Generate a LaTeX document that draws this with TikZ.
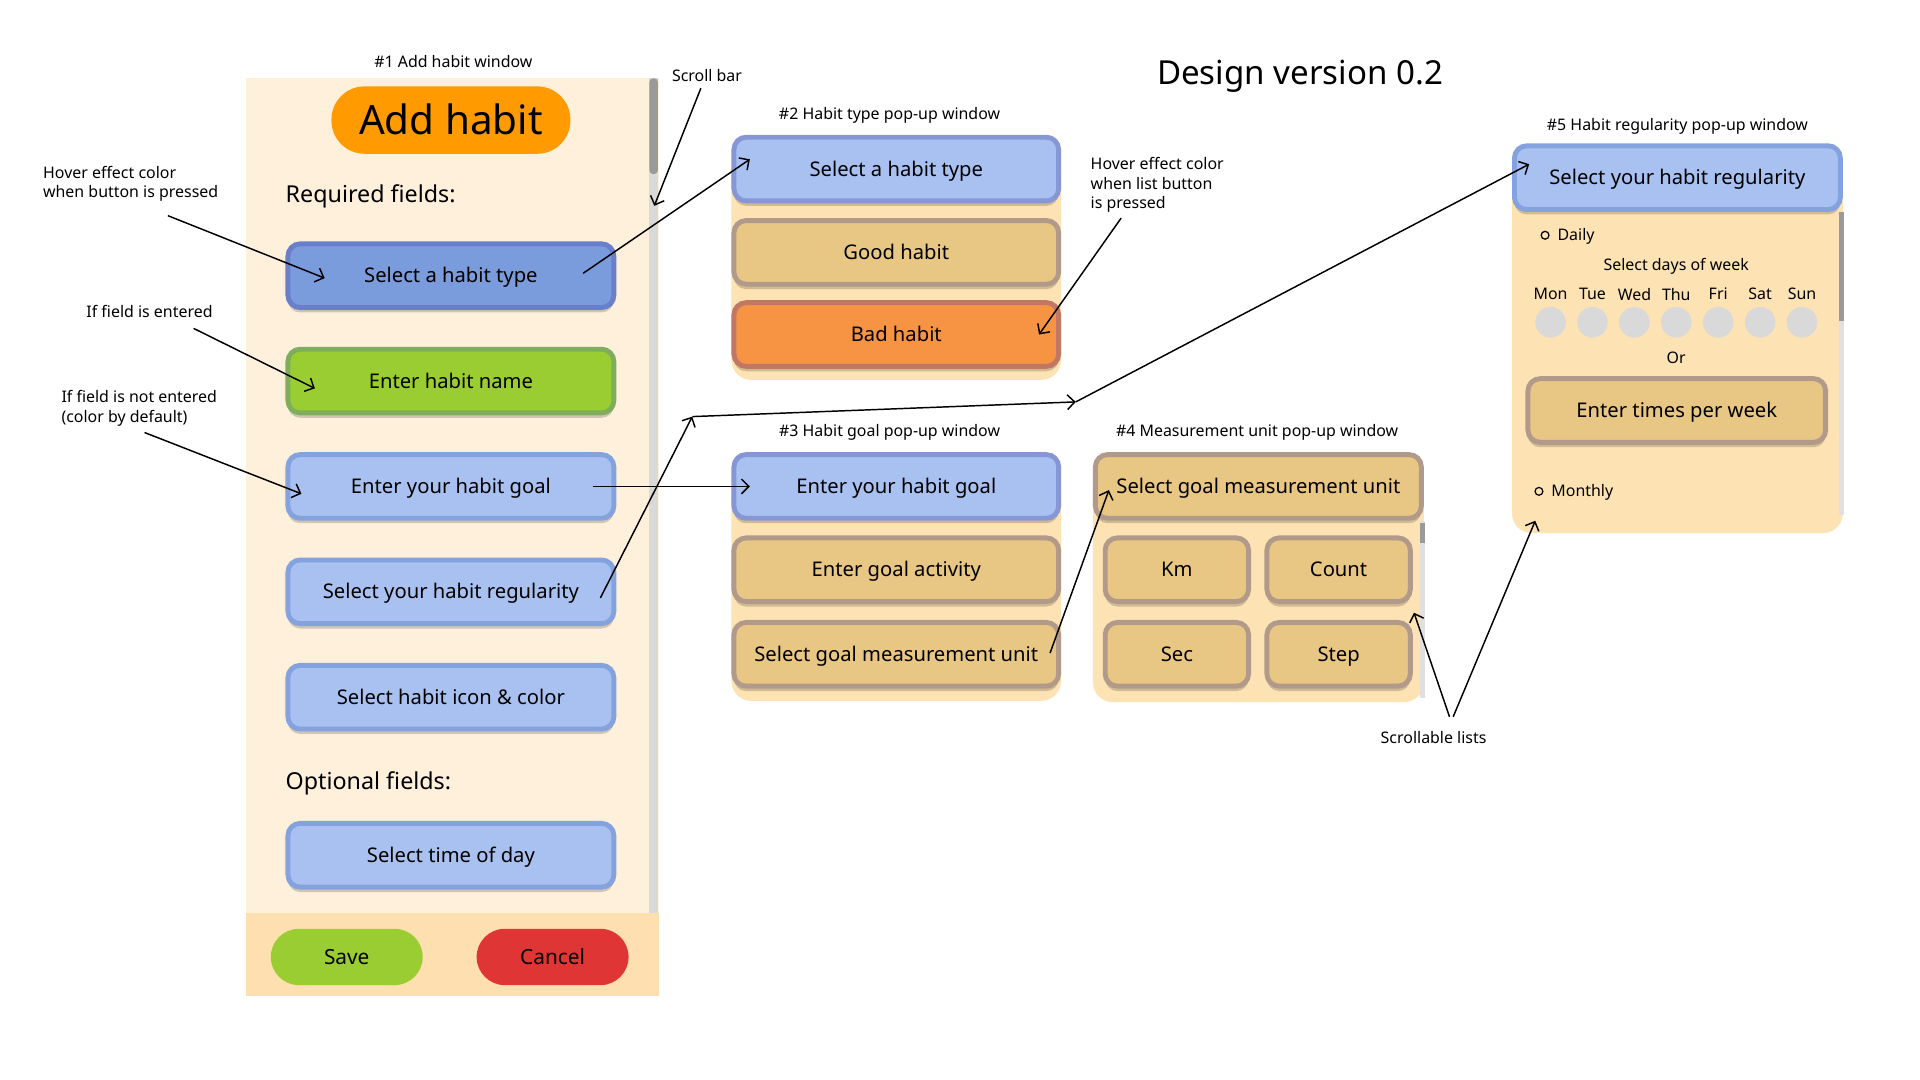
\documentclass[tikz,border=0pt]{standalone}
\usepackage{fontspec}
\setmainfont{Noto Sans}
\usetikzlibrary{calc,arrows.meta,shadows}
\tikzset {>={Straight Barb[length=6pt,width=12pt]}}
\newcommand*{\fsz}[1]{\fontsize{#1}{16}\selectfont}
\definecolor{winbg}{HTML}{FEF0DB}
\definecolor{footbg}{HTML}{FDDFB0}
\definecolor{panel}{HTML}{FDE3B3}
\definecolor{track}{HTML}{D9D9D9}
\definecolor{thumb}{HTML}{9A9A9A}
\definecolor{lblue}{HTML}{A9C1F1}
\definecolor{lblueln}{HTML}{84A3DE}
\definecolor{popln}{HTML}{8797D6}
\definecolor{hblue}{HTML}{7A9BDC}
\definecolor{hblueln}{HTML}{6A7FCA}
\definecolor{okgreen}{HTML}{9ACD32}
\definecolor{okln}{HTML}{7EAE5C}
\definecolor{tan}{HTML}{E8C684}
\definecolor{tanln}{HTML}{B29A8B}
\definecolor{bad}{HTML}{F79444}
\definecolor{badln}{HTML}{C07865}
\definecolor{addc}{HTML}{FF9A00}
\definecolor{cancelc}{HTML}{E03535}
\tikzset{
  btn/.style={rectangle,rounded corners=10pt,line width=4pt,minimum width=266pt,
    minimum height=52pt,inner sep=0pt,font=\fsz{16.5},text height=11.5pt,text depth=0pt,
    drop shadow={shadow xshift=0pt,shadow yshift=-4pt,opacity=.18,fill=black}},
  reqbtn/.style={btn,fill=lblue,draw=lblueln},
  popbtn/.style={btn,fill=lblue,draw=popln,minimum width=265pt},
  hovbtn/.style={btn,fill=hblue,draw=hblueln},
  okbtn/.style={btn,fill=okgreen,draw=okln},
  tanbtn/.style={btn,fill=tan,draw=tanln,minimum width=265pt},
  badbtn/.style={btn,fill=bad,draw=badln,minimum width=265pt},
  unitbtn/.style={tanbtn,minimum width=117pt},
  pill/.style={rectangle,rounded corners=23pt,minimum width=124pt,minimum height=46pt,
    font=\fsz{17},text height=12pt,text depth=0pt},
  note/.style={font=\fsz{13},align=left,inner sep=0pt},
  link/.style={->,line width=1.2pt}
}
\begin{document}
\begin{tikzpicture}[x=1pt,y=-1pt]
\useasboundingbox[fill=white] (0,0) rectangle (1567,881.4);
% window #1
\fill[winbg] (201,64) rectangle (538,745);
\fill[footbg] (201,745) rectangle (538,813);
\fill[track] (530,64) rectangle (537,745);
\fill[thumb,rounded corners=3pt] (530,64) rectangle (537,142);
\node[note] (w1) at (370,50) {\#1 Add habit window};
\node[pill,fill=addc,rounded corners=27pt,minimum width=195pt,minimum height=55pt,font=\fsz{33},text height=24pt] (add) at (368,98) {Add habit};
\node[anchor=west,font=\fsz{19},inner sep=0pt] (req) at (233,160) {Required fields:};
\node[hovbtn] (a1) at (368,225) {Select a habit type};
\node[okbtn] (a2) at (368,311) {Enter habit name};
\node[reqbtn] (a3) at (368,397) {Enter your habit goal};
\node[reqbtn] (a4) at (368,483) {Select your habit regularity};
\node[reqbtn] (a5) at (368,569) {Select habit icon \& color};
\node[anchor=west,font=\fsz{19},inner sep=0pt] (opt) at (233,639) {Optional fields:};
\node[reqbtn] (a6) at (368,698) {Select time of day};
\node[pill,fill=okgreen] (save) at (283,781) {Save};
\node[pill,fill=cancelc] (cancel) at (451,781) {Cancel};
% window #2
\node[note] (w2) at (726,94) {\#2 Habit type pop-up window};
\fill[panel,rounded corners=16pt] (597,125) rectangle (866,310);
\node[popbtn] (t1) at (731.5,138) {Select a habit type};
\node[tanbtn] (t2) at (731.5,206) {Good habit};
\node[badbtn] (t3) at (731.5,273) {Bad habit};
% window #3
\node[note] (w3) at (726,353) {\#3 Habit goal pop-up window};
\fill[panel,rounded corners=16pt] (597,385) rectangle (866,572);
\node[popbtn] (g1) at (731.5,397) {Enter your habit goal};
\node[tanbtn] (g2) at (731.5,465) {Enter goal activity};
\node[tanbtn] (g3) at (731.5,534) {Select goal measurement unit};
% window #4
\node[note] (w4) at (1026,353) {\#4 Measurement unit pop-up window};
\fill[panel,rounded corners=16pt] (892,385) rectangle (1162,573);
\fill[black!12] (1159,425) rectangle (1163,570);
\fill[thumb] (1159,427) rectangle (1163,443);
\node[tanbtn,minimum width=266pt] (u0) at (1027,397) {Select goal measurement unit};
\node[unitbtn] (u1) at (960.5,465) {Km};
\node[unitbtn] (u2) at (1092.5,465) {Count};
\node[unitbtn] (u3) at (960.5,534) {Sec};
\node[unitbtn] (u4) at (1092.5,534) {Step};
% window #5
\node[note] (w5) at (1369,103) {\#5 Habit regularity pop-up window};
\fill[panel,rounded corners=16pt] (1234,135) rectangle (1504,435);
\fill[black!12] (1501,173) rectangle (1505,420);
\fill[thumb] (1501,173) rectangle (1505,262);
\node[reqbtn] (r1) at (1369,145) {Select your habit regularity};
\draw[line width=1pt] (1261,192) circle (3.2pt);
\node[note,anchor=west] (daily) at (1271,193) {Daily};
\node[note] (days) at (1368,217) {Select days of week};
\foreach \d [count=\i from 0] in {Mon,Tue,Wed,Thu,Fri,Sat,Sun} {
  \node[note] (d\i) at (1265.5+34.2*\i,240) {\d};
  \fill[track] (1265.5+34.2*\i,263) circle (12.5pt);
}
\node[note] (or) at (1368,292) {Or};
\node[tanbtn,minimum width=243pt] (r2) at (1368.5,335) {Enter times per week};
\draw[line width=1pt] (1256,401) circle (3.2pt);
\node[note,anchor=west] (monthly) at (1266,402) {Monthly};
% title and notes
\node[font=\fsz{27}] (title) at (1061,62) {Design version 0.2};
\node[note] (sb) at (577,62) {Scroll bar};
\node[note,anchor=west] (n1) at (35,150) {Hover effect color\\when button is pressed};
\node[note] (n2) at (122,254) {If field is entered};
\node[note,anchor=west] (n3) at (50,333) {If field is not entered\\(color by default)};
\node[note,anchor=west] (n4) at (890,151) {Hover effect color\\when list button\\is pressed};
\node[note] (sl) at (1170,602) {Scrollable lists};
\coordinate (sb0) at (572,72);   \coordinate (sb1) at (534,168);
\coordinate (n10) at (137,176);  \coordinate (n11) at (265,227);
\coordinate (n20) at (158,268);  \coordinate (n21) at (257,317);
\coordinate (n30) at (118,353);  \coordinate (n31) at (246,403);
\coordinate (n40) at (915,178);  \coordinate (n41) at (848,273);
\coordinate (a1e) at (476,223);  \coordinate (t1w) at (612,130);
\coordinate (a3e) at (484,397);  \coordinate (g1w) at (612,397);
\coordinate (a4e) at (490,488);  \coordinate (k1) at (565,340);
\coordinate (k2) at (878,328);   \coordinate (r1w) at (1248,134);
\coordinate (g3e) at (857,533);  \coordinate (u0w) at (905,400);
\coordinate (sl0) at (1183,585); \coordinate (sl1) at (1154,500);
\coordinate (sl2) at (1186,585); \coordinate (sl3) at (1253,425);
\draw[link] (sb0) -- (sb1);
\draw[link] (n10) -- (n11);
\draw[link] (n20) -- (n21);
\draw[link] (n30) -- (n31);
\draw[link] (n40) -- (n41);
\draw[link] (a1e) -- (t1w);
\draw[link] (a3e) -- (g1w);
\draw[link] (a4e) -- (k1);
\draw[link] (k1) -- (k2);
\draw[link] (k2) -- (r1w);
\draw[link] (g3e) -- (u0w);
\draw[link] (sl0) -- (sl1);
\draw[link] (sl2) -- (sl3);
\end{tikzpicture}
\end{document}
